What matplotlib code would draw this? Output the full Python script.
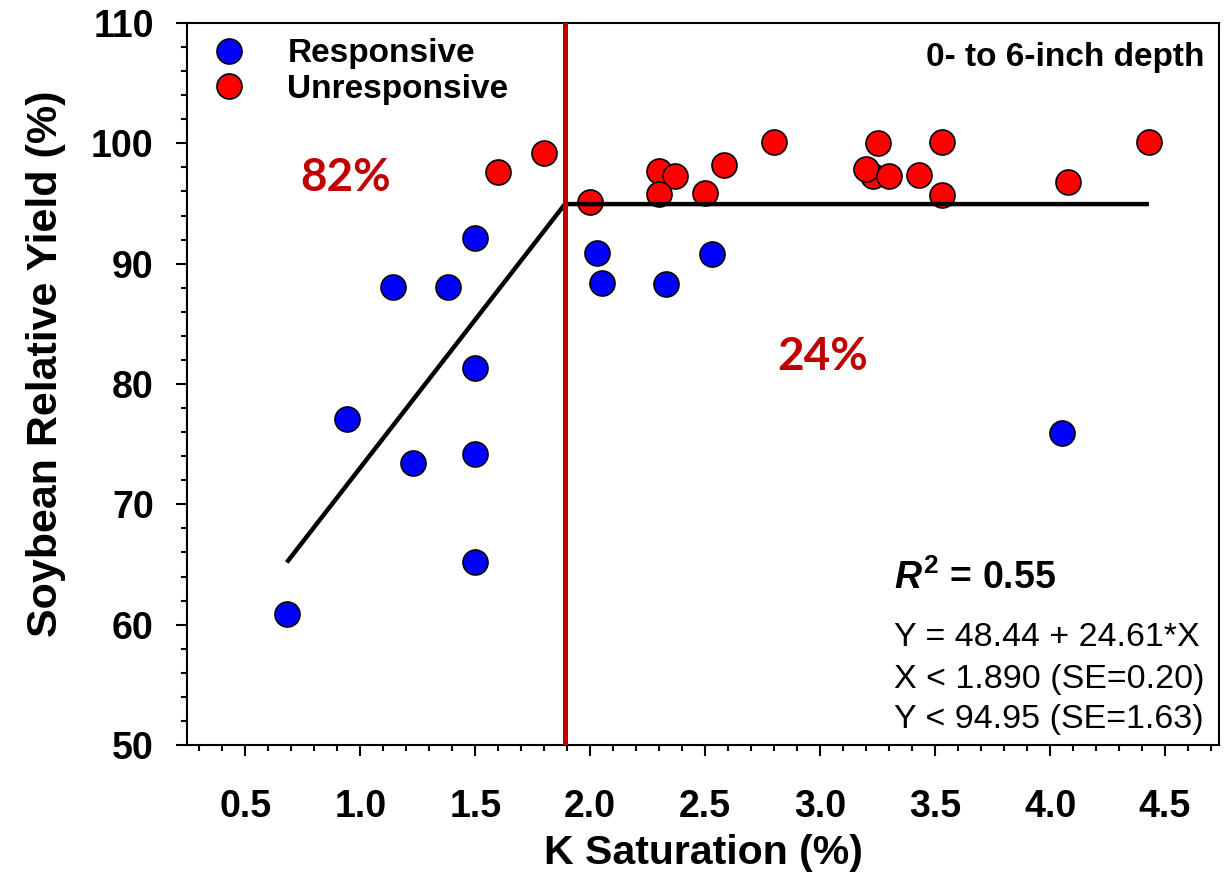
import matplotlib
matplotlib.use("Agg")
import matplotlib.pyplot as plt
from matplotlib.lines import Line2D
from matplotlib.ticker import MultipleLocator

plt.rcParams['font.family'] = ['Liberation Sans', 'DejaVu Sans']
plt.rcParams['mathtext.fontset'] = 'custom'
plt.rcParams['mathtext.rm'] = 'Liberation Sans:bold'
plt.rcParams['mathtext.it'] = 'Liberation Sans:italic:bold'
plt.rcParams['mathtext.bf'] = 'Liberation Sans:bold'

# ---- data ----
resp_x = [0.68, 0.94, 1.14, 1.38, 1.50, 1.50, 1.23, 1.50, 1.50, 2.03, 2.05, 2.33, 2.53, 4.05]
resp_y = [60.9, 77.1, 88.1, 88.1, 92.1, 81.3, 73.4, 74.2, 65.2, 90.9, 88.4, 88.3, 90.8, 75.9]

unresp_x = [1.60, 1.80, 2.00, 2.30, 2.37, 2.30, 2.58, 2.50, 2.80,
            3.25, 3.23, 3.20, 3.30, 3.43, 3.53, 3.53, 4.08, 4.43]
unresp_y = [97.6, 99.2, 95.1, 97.7, 97.3, 95.8, 98.2, 95.9, 100.1,
            100.0, 97.3, 97.9, 97.3, 97.4, 100.1, 95.7, 96.8, 100.1]

fit_x = [0.68, 1.89, 4.43]
fit_y = [65.17, 94.95, 94.95]
join_x = 1.89

legend_labels = ['Responsive', 'Unresponsive']
x_ticks = [0.5, 1.0, 1.5, 2.0, 2.5, 3.0, 3.5, 4.0, 4.5]
y_ticks = [50, 60, 70, 80, 90, 100, 110]

BLUE = '#0000FF'
RED = '#FF0000'
DRED = '#C00000'

fig = plt.figure(figsize=(12.26, 8.74), dpi=100)
ax = fig.add_axes([0.1525, 0.1476, 0.8418, 0.8261])

ms = 18
ax.plot(resp_x, resp_y, 'o', ms=ms, mfc=BLUE, mec='black', mew=1.2, zorder=3, linestyle='none')
ax.plot(unresp_x, unresp_y, 'o', ms=ms, mfc=RED, mec='black', mew=1.2, zorder=3, linestyle='none')
ax.plot(fit_x, fit_y, color='black', lw=3.2, zorder=4, solid_capstyle='butt')
ax.axvline(join_x, color=DRED, lw=3.6, zorder=5)

ax.set_xlim(0.246, 4.735)
ax.set_ylim(50, 110)
ax.set_xticks(x_ticks)
ax.set_xticklabels([f'{v:.1f}' for v in x_ticks])
ax.set_yticks(y_ticks)
ax.xaxis.set_minor_locator(MultipleLocator(0.1))
ax.yaxis.set_minor_locator(MultipleLocator(2))

for s in ax.spines.values():
    s.set_linewidth(1.5)
ax.tick_params(which='major', direction='out', length=8, width=1.5, labelsize=27, top=False, right=False)
ax.tick_params(axis='y', which='major', pad=16)
ax.tick_params(axis='x', which='major', pad=24)
ax.tick_params(which='minor', direction='out', length=4.5, width=1.5, top=False, right=False)
for lab in ax.get_xticklabels() + ax.get_yticklabels():
    lab.set_fontweight('bold')

ax.set_xlabel('K Saturation (%)', fontsize=29.5, fontweight='bold')
ax.set_ylabel('Soybean Relative Yield (%)', fontsize=31, fontweight='bold')
ax.xaxis.set_label_coords(0.5, -0.1496)
ax.xaxis.label.set_va('center')
ax.yaxis.set_label_coords(-0.137, 0.528)
ax.yaxis.label.set_va('center')

handles = [Line2D([], [], marker='o', ms=ms, mfc=BLUE, mec='black', mew=1.2, linestyle='none'),
           Line2D([], [], marker='o', ms=ms, mfc=RED, mec='black', mew=1.2, linestyle='none')]
leg = ax.legend(handles, legend_labels, loc='upper left', frameon=False,
                prop={'family': 'Liberation Sans', 'weight': 'bold', 'size': 24},
                borderaxespad=0.36, borderpad=0.1, handlelength=1.6, handletextpad=0.95,
                labelspacing=0.14)

ax.text(4.67, 107.17, '0- to 6-inch depth', fontsize=24, fontweight='bold', ha='right', va='center')
ax.text(0.935, 97.12, '82%', fontsize=33, fontweight='bold', color=DRED, family='Lato', ha='center', va='center')
ax.text(3.009, 82.24, '24%', fontsize=33, fontweight='bold', color=DRED, family='Lato', ha='center', va='center')
ax.text(3.322, 63.88, r'$R^{2}$ = 0.55', fontsize=27, fontweight='bold', ha='left', va='center')
ax.text(3.322, 58.97, 'Y = 48.44 + 24.61*X', fontsize=24.5, ha='left', va='center')
ax.text(3.322, 55.48, 'X < 1.890 (SE=0.20)', fontsize=24.5, ha='left', va='center')
ax.text(3.322, 52.08, 'Y < 94.95 (SE=1.63)', fontsize=24.5, ha='left', va='center')

fig.savefig('out.png', dpi=100)
